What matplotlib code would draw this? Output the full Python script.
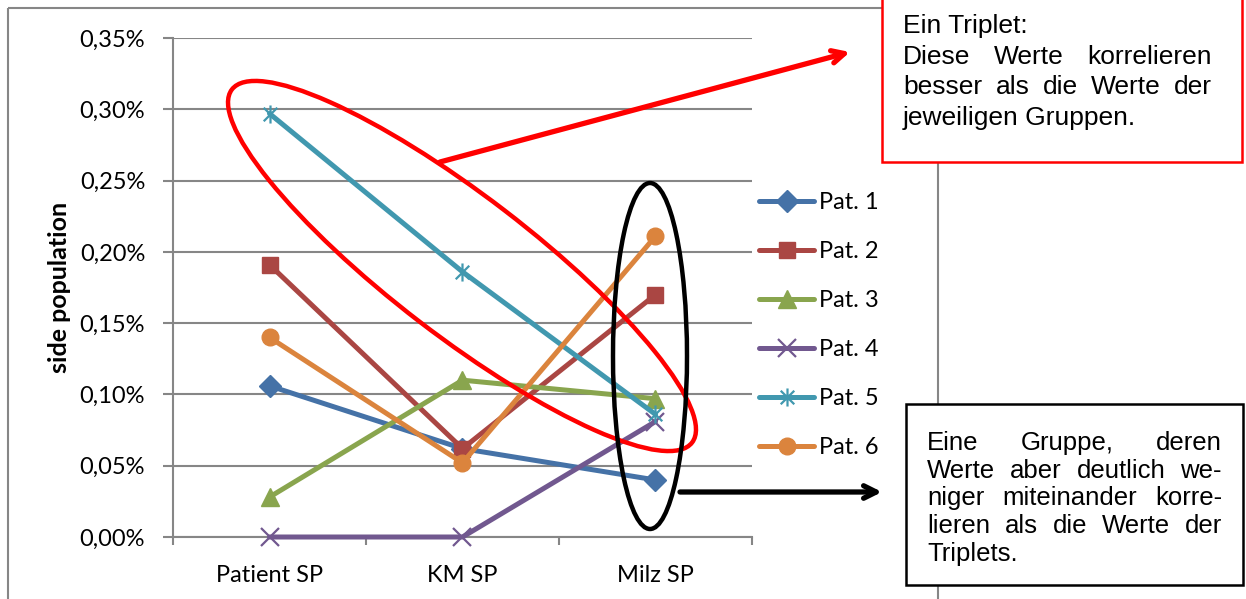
import matplotlib
matplotlib.use('Agg')
import matplotlib.pyplot as plt
from matplotlib.patches import Ellipse, Rectangle
from matplotlib.path import Path
from matplotlib.ticker import FuncFormatter

# side population per sample type and patient (percent)
categories = ['Patient SP', 'KM SP', 'Milz SP']
series_names = ['Pat. 1', 'Pat. 2', 'Pat. 3', 'Pat. 4', 'Pat. 5', 'Pat. 6']
pat1 = [0.106, 0.062, 0.040]
pat2 = [0.191, 0.062, 0.170]
pat3 = [0.028, 0.110, 0.097]
pat4 = [0.000, 0.000, 0.081]
pat5 = [0.297, 0.186, 0.086]
pat6 = [0.140, 0.052, 0.211]
y_ticks = [0.00, 0.05, 0.10, 0.15, 0.20, 0.25, 0.30, 0.35]

colors = ['#4572A7', '#AA4643', '#89A54E', '#71588F', '#4198AF', '#DB843D']

# asterisk marker (x plus vertical bar)
star = Path([(0, -1), (0, 1), (-0.75, -0.75), (0.75, 0.75), (-0.75, 0.75), (0.75, -0.75)],
            [Path.MOVETO, Path.LINETO, Path.MOVETO, Path.LINETO, Path.MOVETO, Path.LINETO])
markers = ['D', 's', '^', 'x', star, 'o']
msizes = [11, 12, 13, 13, 13, 12]

W, H = 1246, 599
fig = plt.figure(figsize=(W / 100, H / 100), dpi=100)
tick_font = 'Lato'

ax = fig.add_axes([173 / W, 1 - 537 / H, (752 - 173) / W, (537 - 38) / H])
x = range(len(categories))
for i, vals in enumerate([pat1, pat2, pat3, pat4, pat5, pat6]):
    ax.plot(x, vals, color=colors[i], lw=3.6, marker=markers[i], ms=msizes[i],
            mew=1.6 if i in (3, 4) else 1, mec=colors[i], mfc=colors[i],
            label=series_names[i], solid_capstyle='round', zorder=3, clip_on=False)

ax.set_xlim(-0.5, 2.5)
ax.set_ylim(0, 0.35)
ax.set_yticks(y_ticks)
ax.yaxis.set_major_formatter(FuncFormatter(lambda v, p: ('%.2f%%' % v).replace('.', ',')))
ax.set_xticks([-0.5, 0.5, 1.5, 2.5])
ax.set_xticklabels([])
ax.set_xticks(list(x), minor=True)
ax.set_xticklabels(categories, minor=True)
ax.tick_params(axis='x', which='minor', length=0, pad=20, labelsize=17)
ax.tick_params(axis='x', which='major', length=6, width=1.5, color='#868686')
ax.tick_params(axis='y', length=7, width=1.5, color='#868686', pad=13, labelsize=17)
for lab in ax.get_xticklabels(minor=True) + ax.get_yticklabels():
    lab.set_family(tick_font)
ax.grid(axis='y', color='#868686', lw=1.5, zorder=0)
for s in ['top', 'right']:
    ax.spines[s].set_visible(False)
for s in ['left', 'bottom']:
    ax.spines[s].set_color('#868686')
    ax.spines[s].set_linewidth(1.5)
ax.set_ylabel('side population', fontsize=18, fontweight='bold', family=tick_font)
ax.yaxis.set_label_coords(-0.176, 0.5)

leg = ax.legend(loc='upper left', bbox_to_anchor=(759 / W, 1 - 192 / H), bbox_transform=fig.transFigure,
                frameon=False, prop={'family': tick_font, 'size': 17}, handlelength=2.35,
                handletextpad=0.2, labelspacing=1.19, borderaxespad=0, borderpad=0)

# overlay in pixel coordinates for the annotations
ov = fig.add_axes([0, 0, 1, 1], zorder=10)
ov.set_xlim(0, W)
ov.set_ylim(H, 0)
ov.axis('off')
ov.patch.set_alpha(0)

# chart area frame
ov.add_patch(Rectangle((8, 8), 930, 620, fill=False, ec='#868686', lw=1.5, zorder=1))

ov.add_patch(Ellipse((462, 266), 580, 140, angle=37.5, fill=False, ec='#FF0000', lw=3.2, zorder=5))
ov.add_patch(Ellipse((650, 356), 74, 346, angle=0, fill=False, ec='black', lw=3.2, zorder=5))
ov.annotate('', xy=(850, 52), xytext=(440, 162),
            arrowprops=dict(arrowstyle='->,head_length=0.9,head_width=0.45', color='#FF0000',
                            lw=3.8, shrinkA=0, shrinkB=0), zorder=6)
ov.annotate('', xy=(882, 492), xytext=(680, 492),
            arrowprops=dict(arrowstyle='->,head_length=0.9,head_width=0.45', color='black',
                            lw=3.8, shrinkA=0, shrinkB=0), zorder=6)

ov.add_patch(Rectangle((882, -10), 360, 172, fc='white', ec='#FF0000', lw=1.8, zorder=7))
ov.add_patch(Rectangle((906, 404), 337, 181, fc='white', ec='black', lw=1.8, zorder=7))

renderer = fig.canvas.get_renderer()


def justified(lines, x0, x1, baselines, size, flags):
    for line, yb, just in zip(lines, baselines, flags):
        words = line.split()
        kw = dict(fontsize=size, family='Liberation Sans', va='baseline', ha='left', zorder=8)
        if not just or len(words) == 1:
            ov.text(x0, yb, line, **kw)
            continue
        widths = []
        for w in words:
            t = ov.text(0, 0, w, **kw)
            widths.append(t.get_window_extent(renderer).width)
            t.remove()
        gap = (x1 - x0 - sum(widths)) / (len(words) - 1)
        xp = x0
        for w, wd in zip(words, widths):
            ov.text(xp, yb, w, **kw)
            xp += wd + gap


justified(['Ein Triplet:', 'Diese Werte korrelieren', 'besser als die Werte der',
           'jeweiligen Gruppen.'],
          903, 1212, [33, 64, 94.5, 125], 19, [False, True, True, False])
justified(['Eine Gruppe, deren', 'Werte aber deutlich we-', 'niger miteinander korre-',
           'lieren als die Werte der', 'Triplets.'],
          927, 1222, [450, 478, 505, 533, 561], 18.5, [True, True, True, True, False])

fig.savefig('out.png', dpi=100, facecolor='white')
